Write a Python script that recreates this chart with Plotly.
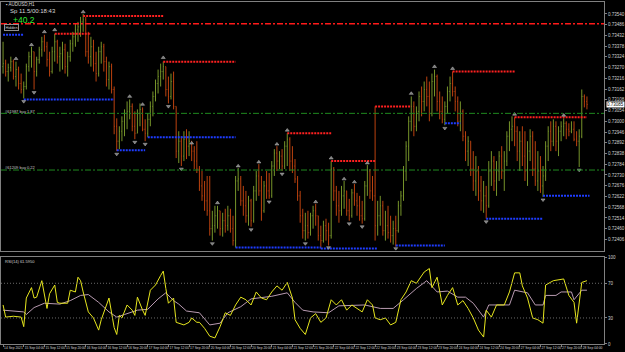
import plotly.graph_objects as go

# ---------------- data (prices stored as pips above BASE_PRICE) ----------------
BASE_PRICE = 0.7200
PIP = 0.0001
FIRST_OPEN_PIPS = 127.5

bar_high_pips = [
    140, 131, 129, 132.5, 131, 130, 127.5, 124, 120, 129,
    135, 137.5, 135, 132.5, 137.5, 142.5, 143.5, 140, 135, 137.5,
    144, 141, 137.5, 140, 139, 135, 141, 145, 149, 150,
    152.5, 154, 152.5, 145, 142.5, 141, 135, 137.5, 140, 139,
    132.5, 130, 129, 117.5, 101.5, 97.5, 102.5, 106, 110, 111,
    109, 105, 106, 109, 107, 101, 104, 110, 115, 121,
    126, 129, 130, 127.5, 122.5, 124, 125, 107.5, 95, 92.5,
    95, 96, 95, 90, 87.5, 90, 77.5, 75, 70, 72.5,
    72.5, 55, 57.5, 57.5, 55, 54, 56, 57.5, 56, 52.5,
    72.5, 76.5, 72.5, 67.5, 65, 62.5, 61, 67.5, 75, 78.5,
    72.5, 70, 75, 74, 80, 86, 87.5, 85, 86, 90,
    94, 92, 87.5, 81, 72.5, 65, 56, 54, 55, 54,
    57.5, 58.5, 52.5, 47.5, 50, 51, 49, 80, 77, 67.5,
    65, 67.5, 70, 65, 61, 66, 68.5, 64, 62.5, 60,
    70, 78, 76, 72.5, 107.5, 60, 62.5, 60, 55, 57.5,
    52.5, 50, 52.5, 60, 65, 77.5, 90, 102.5, 112.5, 110,
    107.5, 115, 117.5, 120, 122.5, 120, 124, 126, 123.5, 115,
    112.5, 110, 117.5, 122.5, 125, 117.5, 112.5, 110, 106, 95,
    92.5, 90, 85, 82.5, 77.5, 72.5, 70, 67.5, 80, 85,
    82.5, 80, 85, 87.5, 85, 95, 100, 102.5, 102, 97.5,
    95, 97.5, 95, 90, 96, 95, 90, 85, 82.5, 77.5,
    90, 97.5, 100, 101, 100, 97.5, 100, 101.5, 100, 99,
    100, 100, 95, 96, 116, 113.5, 112.5,
]
bar_low_pips = [
    124, 122.5, 120, 125, 121, 117.5, 116, 114, 111.5, 116,
    125, 127, 116, 122.5, 129, 132.5, 135, 127.5, 122.5, 124,
    130, 129, 125, 126, 124, 122.5, 130, 135, 137.5, 140,
    142.5, 145, 132.5, 129, 127.5, 125, 120, 122.5, 129, 125,
    117.5, 116, 114, 93.5, 85, 86, 90, 92.5, 96, 101,
    95, 91, 94, 97.5, 95, 90, 92, 97.5, 102.5, 110,
    114, 117.5, 121, 112.5, 109, 111, 106, 81.5, 79, 77.5,
    80, 81, 82.5, 80, 76, 74, 65, 60, 55, 52.5,
    42.5, 40, 44, 46, 42.5, 42, 44, 45, 44, 37.5,
    36.5, 65, 57.5, 52.5, 49, 47.5, 47, 49, 60, 62.5,
    50, 54, 61, 61, 61.5, 72.5, 75, 76, 75, 76,
    77.5, 75, 74, 69, 60, 49, 41, 40, 41, 42.5,
    46, 47.5, 40, 36, 39, 40, 37.5, 41, 60, 52.5,
    49, 52.5, 56, 52.5, 50, 51.5, 57.5, 52.5, 50, 48.5,
    50, 62.5, 61, 60, 40, 42.5, 47.5, 42.5, 40, 41,
    39, 38, 37, 44, 52.5, 60, 70, 80, 95, 92.5,
    95, 100, 102.5, 105, 107.5, 100, 102.5, 112.5, 105, 101,
    99, 98, 104, 110, 112.5, 105, 97.5, 95, 90, 80,
    77.5, 72.5, 65, 62.5, 60, 55, 54, 51, 56.5, 67.5,
    65, 62.5, 70, 71, 65, 77.5, 85, 90, 87.5, 80,
    75, 77.5, 70, 67.5, 80, 72.5, 67.5, 65, 64, 62,
    70, 80, 85, 87.5, 85, 82.5, 90, 92.5, 91, 92.5,
    94, 90, 87.5, 77, 91.5, 107, 106,
]
bar_close_pips = [
    129, 125, 127, 130, 122.5, 126, 119, 116, 117.5, 127.5,
    132.5, 135, 125, 131, 136, 140, 137.5, 131, 125, 135,
    140, 132.5, 134, 136, 127.5, 132.5, 139, 142.5, 146, 147.5,
    150, 151, 135, 132.5, 137.5, 129, 124, 135, 137.5, 130,
    121, 127.5, 116, 97.5, 90, 95, 100, 104, 105, 107.5,
    97.5, 94, 104, 106, 96, 94, 101, 107.5, 112.5, 119,
    122.5, 125, 127.5, 116, 112.5, 120, 107.5, 85, 90, 82.5,
    91, 87.5, 90, 85, 80, 76, 67.5, 62.5, 60, 55,
    46, 47.5, 52.5, 55, 46, 50, 47.5, 52.5, 46, 40,
    70, 71, 60, 57.5, 52.5, 60, 50, 65, 72.5, 65,
    55, 67.5, 65, 62.5, 77.5, 84, 80, 82.5, 77.5, 87.5,
    91, 80, 77.5, 71, 62.5, 52.5, 45, 47.5, 44, 52.5,
    55, 52.5, 42.5, 40, 47.5, 45, 42.5, 76, 65, 57.5,
    55, 62.5, 65, 55, 52.5, 64, 60, 57.5, 52.5, 51,
    67.5, 75, 65, 62.5, 47.5, 52.5, 57.5, 45, 47.5, 44,
    42.5, 46, 45, 57.5, 62.5, 75, 87.5, 100, 107.5, 97.5,
    105, 112.5, 110, 116, 112.5, 104, 120, 122.5, 110, 105,
    101, 107.5, 115, 119, 115, 110, 100, 105, 92.5, 85,
    90, 76, 70, 75, 65, 60, 62.5, 57.5, 75, 80,
    70, 75, 82.5, 75, 80, 92.5, 96, 97.5, 95, 85,
    90, 82.5, 75, 85, 92.5, 76, 70, 75, 67.5, 72.5,
    87.5, 95, 90, 97.5, 90, 95, 97.5, 99, 96, 95,
    96, 91, 90, 92.5, 112.5, 110, 108.5,
]

# order / level lines (pips)
stop_level_pips = 149
order_levels_pips = [104, 75.5]
order_labels = ["#61987 buy 1.87", "#61209 buy 0.22"]

# fractal-based resistance (red) and support (blue) segments: start bar, end bar, pips
resist_start = [20, 31, 62, 110, 127, 144, 174, 198]
resist_end = [34, 62, 90, 127, 144, 158, 198, 226]
resist_pips = [144, 153, 130, 94, 80, 107.5, 125, 102]
support_start = [0, 8, 44, 56, 90, 123, 152, 171, 187, 209]
support_end = [8, 43, 55, 90, 123, 145, 171, 177, 209, 227]
support_pips = [143.5, 111, 85.5, 92, 36.5, 36, 37.5, 99, 51, 62.5]

# fractal arrows
frac_up_idx = [5, 11, 16, 20, 31, 49, 54, 62, 73, 83, 91, 99, 106, 110, 121, 127,
               132, 136, 141, 158, 167, 174, 198, 217]
frac_up_pips = [131.5, 138.5, 145, 146, 155, 112.5, 108.5, 132, 89, 59, 77.5, 79.5,
                88.5, 95.5, 59.5, 81.5, 71, 69.5, 79, 114, 127.5, 126.5, 103.5, 103]
frac_dn_idx = [8, 12, 44, 51, 55, 64, 69, 81, 96, 103, 108, 117, 126, 134, 139,
               152, 171, 187, 209, 223]
frac_dn_pips = [110, 114.5, 83.5, 89.5, 88.5, 107.5, 76, 38.5, 45.5, 59.5, 73.5,
                38.5, 36.5, 48.5, 47, 36, 96.5, 49.5, 60.5, 75.5]

# RSI (yellow) and its moving average (lavender)
rsi_idx = [0, 1, 4, 7, 8, 9, 11, 12, 13, 15, 17, 18, 20, 21, 22, 25, 26, 28, 29, 30,
           31, 33, 35, 37, 38, 40, 41, 43, 44, 45, 46, 48, 50, 51, 52, 54, 55, 57, 59, 61,
           62, 63, 64, 66, 67, 70, 72, 73, 75, 76, 78, 80, 82, 84, 86, 88, 90, 92, 94, 96,
           98, 100, 102, 104, 106, 108, 110, 112, 113, 115, 117, 119, 121, 123, 125, 127,
           129, 131, 133, 135, 137, 139, 141, 143, 144, 146, 148, 150, 152, 154, 156, 158,
           160, 163, 165, 166, 168, 170, 172, 174, 176, 178, 180, 182, 184, 186, 187, 189,
           191, 194, 196, 198, 200, 201, 202, 203, 205, 207, 209, 210, 213, 216, 217, 219,
           221, 222, 224, 226]
rsi_val = [45, 31, 32, 31, 20, 53, 65, 53, 54, 73, 41, 58, 68, 48, 47, 47, 62, 60, 77, 73,
           60, 37, 30, 16, 28, 45, 53, 19, 11, 33, 30, 45, 39, 33, 54, 39, 33, 62, 68, 79,
           84, 64, 47, 53, 25, 22, 25, 30, 25, 25, 18, 9, 7, 20, 36, 33, 45, 54, 51, 45,
           60, 53, 51, 60, 67, 62, 71, 53, 28, 18, 11, 30, 35, 25, 30, 51,
           45, 51, 39, 45, 41, 37, 51, 45, 30, 28, 30, 22, 25, 51, 60, 73,
           70, 83, 87, 65, 77, 45, 56, 65, 45, 50, 41, 30, 16, 8, 39, 31,
           45, 45, 60, 82, 82, 67, 60, 53, 30, 28, 24, 68, 73, 75, 75, 56,
           48, 24, 71, 73]
rsi_ma_idx = [0, 8, 9, 12, 16, 22, 26, 30, 33, 37, 41, 44, 47, 52, 56, 60, 63, 66, 68, 71,
              76, 80, 84, 87, 92, 96, 104, 110, 113, 116, 120, 126, 130, 140, 146, 151, 155,
              160, 164, 168, 172, 176, 179, 182, 186, 188, 196, 198, 203, 206, 209, 210, 214,
              216, 220, 221, 224, 226]
rsi_ma_val = [39, 37, 34, 42, 47, 46, 50, 56, 57, 48, 37, 31, 34, 39, 40, 52, 59, 50, 46, 38,
              36, 22, 24, 36, 43, 52, 55, 59, 48, 39, 37, 36, 44, 45, 41, 41, 51,
              64, 73, 60, 61, 54, 54, 47, 31, 45, 45, 62, 59, 45, 45, 56, 56,
              60, 60, 51, 62, 62]
rsi_levels = [70, 30]

time_tick_idx = [0, 8, 16, 24, 32, 40, 48, 56, 64, 72, 80, 88, 96, 104, 112, 120, 128,
                 136, 144, 152, 160, 168, 176, 184, 192, 200, 208, 216, 224]
time_tick_labels = ["14 Sep 2021", "15 Sep 04:00", "15 Sep 12:00", "15 Sep 20:00",
                    "16 Sep 04:00", "16 Sep 12:00", "16 Sep 20:00", "17 Sep 04:00",
                    "17 Sep 12:00", "17 Sep 20:00", "20 Sep 04:00", "20 Sep 12:00",
                    "20 Sep 20:00", "21 Sep 04:00", "21 Sep 12:00", "21 Sep 20:00",
                    "22 Sep 04:00", "22 Sep 12:00", "22 Sep 20:00", "23 Sep 04:00",
                    "23 Sep 12:00", "23 Sep 20:00", "24 Sep 04:00", "24 Sep 12:00",
                    "24 Sep 20:00", "27 Sep 04:00", "27 Sep 12:00", "27 Sep 20:00",
                    "28 Sep 04:00"]
price_ticks = [0.73540, 0.73486, 0.73432, 0.73378, 0.73324, 0.73270, 0.73216, 0.73162,
               0.73108, 0.73054, 0.73000, 0.72946, 0.72892, 0.72838, 0.72784, 0.72730,
               0.72676, 0.72622, 0.72568, 0.72514, 0.72460, 0.72406]
rsi_ticks = [100, 70, 30, 0]

# ---------------- build ----------------
def px(v):
    return BASE_PRICE + v * PIP

n = len(bar_close_pips)
idx = list(range(n))
closes = [px(v) for v in bar_close_pips]
opens = [px(FIRST_OPEN_PIPS)] + closes[:-1]
highs = [px(v) for v in bar_high_pips]
lows = [px(v) for v in bar_low_pips]

FONT = "Liberation Sans"
GRAY = "#808080"
W, H = 625, 352
R_MARGIN, B_MARGIN = 16, 8
PW, PH = W - R_MARGIN, H - B_MARGIN

fig = go.Figure()

fig.add_trace(go.Ohlc(
    x=idx, open=opens, high=highs, low=lows, close=closes,
    increasing=dict(line=dict(color="#76942a", width=1)),
    decreasing=dict(line=dict(color="#bb420f", width=1)),
    tickwidth=0.25, hoverinfo="skip", xaxis="x", yaxis="y", showlegend=False))

def seg_xy(starts, ends, levels):
    xs, ys = [], []
    for s, e, l in zip(starts, ends, levels):
        xs += [s, e, None]
        ys += [px(l), px(l), None]
    return xs, ys

rx, ry = seg_xy(resist_start, resist_end, resist_pips)
fig.add_trace(go.Scatter(x=rx, y=ry, mode="lines", line=dict(color="#ff2020", width=2, dash="2px,1px"),
                         hoverinfo="skip", showlegend=False, xaxis="x", yaxis="y"))
sx, sy = seg_xy(support_start, support_end, support_pips)
fig.add_trace(go.Scatter(x=sx, y=sy, mode="lines", line=dict(color="#1e3cff", width=2, dash="2px,1px"),
                         hoverinfo="skip", showlegend=False, xaxis="x", yaxis="y"))

fig.add_trace(go.Scatter(x=frac_up_idx, y=[px(v) for v in frac_up_pips], mode="markers",
                         marker=dict(symbol="triangle-up", size=3.5, color="#7a7a7a",
                                     line=dict(color="#bcbcbc", width=0.5)),
                         hoverinfo="skip", showlegend=False, xaxis="x", yaxis="y"))
fig.add_trace(go.Scatter(x=frac_dn_idx, y=[px(v) for v in frac_dn_pips], mode="markers",
                         marker=dict(symbol="triangle-down", size=3.5, color="#7a7a7a",
                                     line=dict(color="#bcbcbc", width=0.5)),
                         hoverinfo="skip", showlegend=False, xaxis="x", yaxis="y"))

fig.add_trace(go.Scatter(x=rsi_ma_idx, y=rsi_ma_val, mode="lines",
                         line=dict(color="#b89ab0", width=1), hoverinfo="skip",
                         showlegend=False, xaxis="x2", yaxis="y2"))
fig.add_trace(go.Scatter(x=rsi_idx, y=rsi_val, mode="lines",
                         line=dict(color="#e6e61e", width=1), hoverinfo="skip",
                         showlegend=False, xaxis="x2", yaxis="y2"))

shapes = []
shapes.append(dict(type="line", xref="x domain", yref="y", x0=0, x1=1,
                   y0=px(stop_level_pips), y1=px(stop_level_pips),
                   line=dict(color="#ff1a1a", width=1.5, dash="6px,2px,2px,2px")))
for lv in order_levels_pips:
    shapes.append(dict(type="line", xref="x domain", yref="y", x0=0, x1=1,
                       y0=px(lv), y1=px(lv),
                       line=dict(color="#1f8a1f", width=1, dash="6px,2px,2px,2px")))
for lv in rsi_levels:
    shapes.append(dict(type="line", xref="x2 domain", yref="y2", x0=0, x1=1,
                       y0=lv, y1=lv, line=dict(color="#6a6a6a", width=1, dash="1px,2px")))

def pxp(x):
    return x / PW

def pyp(y):
    return (PH - y) / PH

ann = []
def text(x, y, t, size, color, **kw):
    ann.append(dict(x=pxp(x), y=pyp(y), xref="paper", yref="paper", text=t, showarrow=False,
                    xanchor="left", yanchor="middle",
                    font=dict(family=FONT, size=size, color=color), **kw))

text(3, 3, "▪ AUDUSD,H1", 4.5, "#d8d8d8")
text(7, 9, "Sp 11.5/00:18:43", 6, "#d8d8d8")
text(10, 18.5, "+40.2", 8.5, "#35e635")
text(3, 25.5, "Hidden", 3.8, "#d0d0d0", bordercolor="#909090", borderwidth=1, borderpad=0.5, bgcolor="#000000")
order_text_y = [110, 166.5]
for t, yy in zip(order_labels, order_text_y):
    text(2, yy, t, 4, "#c8c8c8")
text(2, 261, "RSI(14) 61.5950", 4, "#d0d0d0")

ann.append(dict(x=1.0, y=closes[-1], xref="paper", yref="y", text="%.5f" % closes[-1],
                showarrow=False, xanchor="left", yanchor="middle", bgcolor="#ffffff",
                font=dict(family=FONT, size=4.5, color="#000000"), borderpad=0, xshift=2))

main_bottom = pyp(250)
sub_top = pyp(256.75)
xr = [-0.8, 232.6]
axis_common = dict(showgrid=False, zeroline=False, showline=True, linecolor=GRAY, linewidth=1,
                   mirror=True)

fig.update_layout(
    width=W, height=H,
    margin=dict(l=0, r=R_MARGIN, t=0, b=B_MARGIN),
    paper_bgcolor="#000000", plot_bgcolor="#000000",
    font=dict(family=FONT, color="#d0d0d0", size=4.5),
    showlegend=False,
    shapes=shapes, annotations=ann,
    xaxis=dict(domain=[0, 1], anchor="y", range=xr, showticklabels=False, ticks="",
               rangeslider=dict(visible=False), **axis_common),
    yaxis=dict(domain=[main_bottom, 1], anchor="x", side="right", range=[px(35), px(160)],
               tickvals=price_ticks, ticktext=["%.5f" % v for v in price_ticks],
               ticks="outside", ticklen=2, tickcolor=GRAY,
               tickfont=dict(size=4.5, color="#d0d0d0", family=FONT), **axis_common),
    xaxis2=dict(domain=[0, 1], anchor="y2", range=xr, tickvals=time_tick_idx,
                ticktext=time_tick_labels, ticks="outside", ticklen=2, tickcolor=GRAY,
                ticklabelposition="outside right", tickangle=0,
                tickfont=dict(size=3.3, color="#d0d0d0", family=FONT), **axis_common),
    yaxis2=dict(domain=[0, sub_top], anchor="x2", side="right", range=[0, 100],
                tickvals=rsi_ticks, ticktext=[str(v) for v in rsi_ticks],
                ticks="outside", ticklen=2, tickcolor=GRAY,
                tickfont=dict(size=4.5, color="#d0d0d0", family=FONT), **axis_common),
)

fig.write_html("out.html")
